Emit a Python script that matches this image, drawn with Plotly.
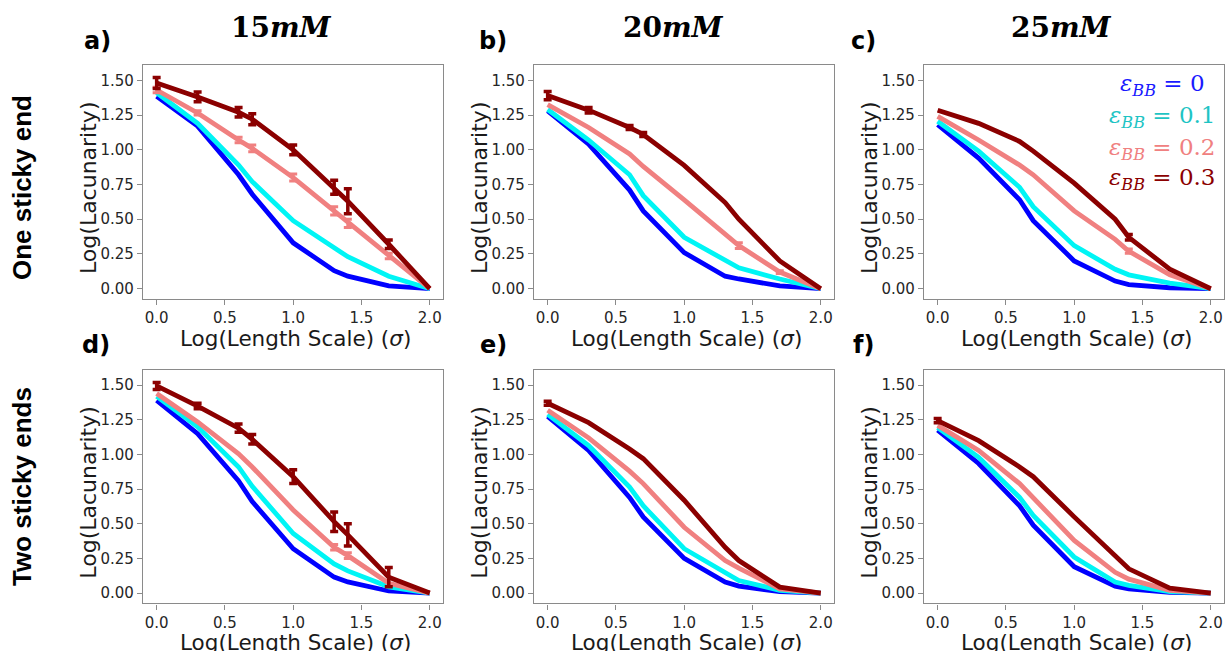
import plotly.graph_objects as go

# ---------------- data ----------------
log_length = [0.0, 0.30, 0.60, 0.70, 1.0, 1.30, 1.40, 1.70, 2.0]
x_ticks = [0.0, 0.5, 1.0, 1.5, 2.0]
x_tick_text = ["0.0", "0.5", "1.0", "1.5", "2.0"]
y_ticks = [0.0, 0.25, 0.5, 0.75, 1.0, 1.25, 1.5]
y_tick_text = ["0.00", "0.25", "0.50", "0.75", "1.00", "1.25", "1.50"]

series_names = ["ε_BB = 0", "ε_BB = 0.1", "ε_BB = 0.2", "ε_BB = 0.3"]
series_colors = ["#0000ff", "#00f5f5", "#f08080", "#8b0000"]
legend_colors = ["#1a1aff", "#1ec4c4", "#f08080", "#8b0000"]
legend_values = ["0", "0.1", "0.2", "0.3"]

col_titles = ["15", "20", "25"]
row_titles = ["One sticky end", "Two sticky ends"]
panel_letters = ["a)", "b)", "c)", "d)", "e)", "f)"]

# panel a : 15 mM, one sticky end
a_e0 = [1.385, 1.17, 0.82, 0.68, 0.33, 0.13, 0.09, 0.02, 0.0]
a_e1 = [1.41, 1.19, 0.89, 0.77, 0.49, 0.295, 0.23, 0.09, 0.0]
a_e2 = [1.43, 1.265, 1.07, 1.01, 0.80, 0.56, 0.47, 0.235, 0.0]
a_e3 = [1.48, 1.38, 1.27, 1.22, 1.00, 0.73, 0.63, 0.32, 0.0]
a_err2 = [0.02, 0.015, 0.02, 0.025, 0.025, 0.03, 0.03, 0.02, 0.0]
a_err3 = [0.04, 0.035, 0.035, 0.04, 0.035, 0.05, 0.09, 0.03, 0.0]

# panel b : 20 mM, one sticky end
b_e0 = [1.28, 1.04, 0.71, 0.56, 0.26, 0.09, 0.07, 0.02, 0.0]
b_e1 = [1.29, 1.07, 0.82, 0.67, 0.37, 0.20, 0.15, 0.07, 0.0]
b_e2 = [1.325, 1.16, 0.97, 0.88, 0.64, 0.40, 0.31, 0.12, 0.0]
b_e3 = [1.39, 1.285, 1.16, 1.11, 0.887, 0.62, 0.50, 0.20, 0.0]
b_err2 = [0.0, 0.0, 0.0, 0.0, 0.0, 0.0, 0.02, 0.01, 0.0]
b_err3 = [0.03, 0.02, 0.015, 0.015, 0.0, 0.0, 0.0, 0.0, 0.0]

# panel c : 25 mM, one sticky end
c_e0 = [1.18, 0.94, 0.64, 0.49, 0.20, 0.055, 0.03, 0.007, 0.0]
c_e1 = [1.205, 0.99, 0.73, 0.59, 0.31, 0.14, 0.10, 0.04, 0.0]
c_e2 = [1.24, 1.07, 0.89, 0.82, 0.56, 0.355, 0.27, 0.10, 0.0]
c_e3 = [1.285, 1.19, 1.06, 0.99, 0.76, 0.50, 0.37, 0.14, 0.0]
c_err2 = [0.0, 0.0, 0.0, 0.0, 0.0, 0.0, 0.015, 0.0, 0.0]
c_err3 = [0.0, 0.0, 0.0, 0.0, 0.0, 0.0, 0.02, 0.0, 0.0]

# panel d : 15 mM, two sticky ends
d_e0 = [1.39, 1.15, 0.81, 0.66, 0.32, 0.115, 0.08, 0.015, 0.0]
d_e1 = [1.42, 1.20, 0.91, 0.77, 0.43, 0.21, 0.16, 0.045, 0.0]
d_e2 = [1.44, 1.235, 1.005, 0.91, 0.60, 0.33, 0.27, 0.07, 0.0]
d_e3 = [1.495, 1.35, 1.19, 1.11, 0.84, 0.515, 0.42, 0.115, 0.0]
d_err2 = [0.0, 0.0, 0.0, 0.0, 0.0, 0.02, 0.02, 0.0, 0.0]
d_err3 = [0.025, 0.02, 0.03, 0.035, 0.05, 0.07, 0.08, 0.07, 0.0]

# panel e : 20 mM, two sticky ends
e_e0 = [1.275, 1.03, 0.69, 0.55, 0.25, 0.08, 0.05, 0.01, 0.0]
e_e1 = [1.29, 1.065, 0.765, 0.63, 0.32, 0.14, 0.09, 0.02, 0.0]
e_e2 = [1.32, 1.12, 0.88, 0.79, 0.475, 0.235, 0.18, 0.03, 0.0]
e_e3 = [1.37, 1.23, 1.04, 0.97, 0.67, 0.33, 0.235, 0.043, 0.0]
e_err2 = [0.0, 0.0, 0.0, 0.0, 0.0, 0.0, 0.0, 0.0, 0.0]
e_err3 = [0.015, 0.0, 0.0, 0.0, 0.0, 0.0, 0.0, 0.0, 0.0]

# panel f : 25 mM, two sticky ends
f_e0 = [1.175, 0.935, 0.63, 0.49, 0.19, 0.05, 0.03, 0.005, 0.0]
f_e1 = [1.195, 0.98, 0.69, 0.56, 0.26, 0.08, 0.055, 0.01, 0.0]
f_e2 = [1.21, 1.03, 0.79, 0.69, 0.38, 0.15, 0.10, 0.02, 0.0]
f_e3 = [1.245, 1.10, 0.91, 0.84, 0.55, 0.26, 0.175, 0.036, 0.0]
f_err2 = [0.0, 0.0, 0.0, 0.0, 0.0, 0.0, 0.0, 0.0, 0.0]
f_err3 = [0.015, 0.0, 0.0, 0.0, 0.0, 0.0, 0.0, 0.0, 0.0]

panels = [
    ([a_e0, a_e1, a_e2, a_e3], [None, None, a_err2, a_err3]),
    ([b_e0, b_e1, b_e2, b_e3], [None, None, b_err2, b_err3]),
    ([c_e0, c_e1, c_e2, c_e3], [None, None, c_err2, c_err3]),
    ([d_e0, d_e1, d_e2, d_e3], [None, None, d_err2, d_err3]),
    ([e_e0, e_e1, e_e2, e_e3], [None, None, e_err2, e_err3]),
    ([f_e0, f_e1, f_e2, f_e3], [None, None, f_err2, f_err3]),
]

# ---------------- layout geometry (pixels) ----------------
W, H = 1225, 651
col_px = [(143, 443.4), (534, 834.4), (924, 1224.4)]
row_px = [(65, 299), (370, 603.3)]


def px_x(v):
    return v / W


def px_y(v):
    return 1 - v / H


fig = go.Figure()
layout_axes = {}
axis_color = "#8a8a8a"
tick_font = dict(family="DejaVu Sans", size=15, color="#262626")

for i, (vals, errs) in enumerate(panels):
    r, c = divmod(i, 3)
    n = i + 1
    xa = "x" if n == 1 else f"x{n}"
    ya = "y" if n == 1 else f"y{n}"
    for k in range(4):
        fig.add_trace(go.Scatter(
            x=log_length, y=vals[k], mode="lines",
            line=dict(color=series_colors[k], width=4.8),
            xaxis=xa, yaxis=ya, showlegend=False, name=series_names[k],
        ))
        err = errs[k]
        if err is not None:
            ex = [xv for xv, ev in zip(log_length, err) if ev > 0]
            ey = [yv for yv, ev in zip(vals[k], err) if ev > 0]
            ee = [ev for ev in err if ev > 0]
            if ex:
                fig.add_trace(go.Scatter(
                    x=ex, y=ey, mode="markers",
                    marker=dict(size=1, color=series_colors[k], opacity=0),
                    error_y=dict(type="data", array=ee, visible=True,
                                 color=series_colors[k],
                                 thickness=3.5 if k == 3 else 3, width=4),
                    xaxis=xa, yaxis=ya, showlegend=False, hoverinfo="skip",
                ))
    x0, x1 = col_px[c]
    y0, y1 = row_px[r]
    layout_axes[f"xaxis{'' if n == 1 else n}"] = dict(
        domain=[px_x(x0), px_x(x1)], range=[-0.1, 2.1], anchor=ya,
        tickvals=x_ticks, ticktext=x_tick_text, ticks="outside", ticklen=5,
        tickcolor=axis_color, tickwidth=1.2, showline=True, mirror=True,
        linecolor=axis_color, linewidth=1.4, showgrid=False, zeroline=False,
        tickfont=tick_font,
    )
    layout_axes[f"yaxis{'' if n == 1 else n}"] = dict(
        domain=[px_y(y1), px_y(y0)], range=[-0.074, 1.61], anchor=xa,
        tickvals=y_ticks, ticktext=y_tick_text, ticks="outside", ticklen=5,
        tickcolor=axis_color, tickwidth=1.2, showline=True, mirror=True,
        linecolor=axis_color, linewidth=1.4, showgrid=False, zeroline=False,
        tickfont=tick_font,
    )

annotations = []


def ann(text, x, y, size, family, color="black", angle=0, xanchor="center"):
    annotations.append(dict(
        text=text, x=px_x(x), y=px_y(y), xref="paper", yref="paper",
        showarrow=False, xanchor=xanchor, yanchor="middle", textangle=angle,
        font=dict(size=size, family=family, color=color),
    ))


# column titles
title_x = [281, 673, 1061]
for c in range(3):
    ann(f"<b>{col_titles[c]}<i>mM</i></b>", title_x[c], 27, 28, "DejaVu Serif")

# panel letters
letter_pos = [(97, 41), (493, 41), (863, 41), (96, 345), (493, 345), (863, 345)]
for i, (lx, ly) in enumerate(letter_pos):
    ann(f"<b>{panel_letters[i]}</b>", lx, ly, 24, "DejaVu Sans")

# row labels
ann(f"<b>{row_titles[0]}</b>", 22, 188, 26, "Liberation Sans", angle=-90)
ann(f"<b>{row_titles[1]}</b>", 22, 487, 26, "Liberation Sans", angle=-90)

# axis titles
for r in range(2):
    for c in range(3):
        x0, x1 = col_px[c]
        y0, y1 = row_px[r]
        ann("Log(Lacunarity)", x0 - 54, (y0 + y1) / 2 + 6, 22, "DejaVu Sans",
            color="#1a1a1a", angle=-90)
        ann("Log(Length Scale) (<i>σ</i>)", (x0 + x1) / 2 + 2, y1 + 39, 21.5,
            "DejaVu Sans", color="#1a1a1a")

# legend (panel c)
leg_y = [85, 117, 149, 179]
for k in range(4):
    ann(f"<i>ε</i><sub><i>BB</i></sub> = {legend_values[k]}", 1162, leg_y[k], 23,
        "DejaVu Serif", color=legend_colors[k])

fig.update_layout(
    width=W, height=H, margin=dict(l=0, r=0, t=0, b=0),
    paper_bgcolor="white", plot_bgcolor="white",
    annotations=annotations, **layout_axes,
)

fig.write_html("out.html")
